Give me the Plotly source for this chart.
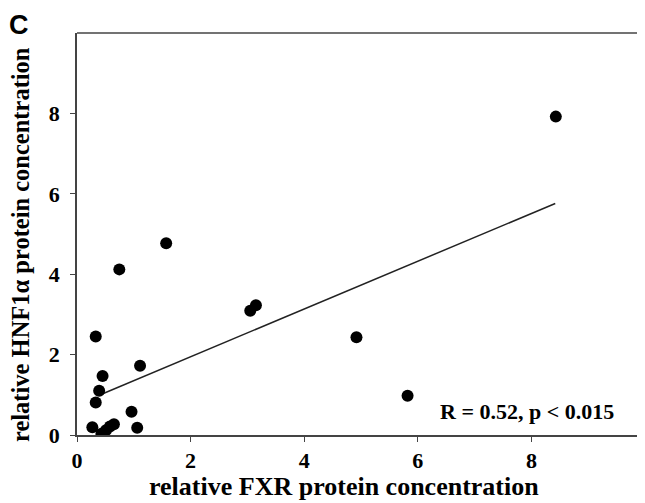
import plotly.graph_objects as go

# Data
fxr = [0.33, 1.11, 0.45, 0.39, 0.33, 0.96, 0.27, 1.06, 0.43, 0.51, 0.58, 0.65,
       0.745, 1.57, 3.05, 3.15, 4.92, 5.82, 8.43]
hnf1a = [2.45, 1.72, 1.47, 1.10, 0.81, 0.58, 0.19, 0.18, 0.03, 0.12, 0.21, 0.27,
         4.12, 4.77, 3.09, 3.23, 2.43, 0.975, 7.92]
fit_x = [0.39, 8.42]
fit_y = [0.99, 5.76]
x_ticks = [0, 2, 4, 6, 8]
y_ticks = [0, 2, 4, 6, 8]
annotation_text = "R = 0.52, p < 0.015"
x_title = "relative FXR protein concentration"
y_title = "relative HNF1α protein concentration"

serif = "Liberation Serif"
axis_col = "#444444"

# page has an 8px body margin; plot area on page: x 77..645, y 33..435
PW, PH = 568, 402

def px(xp):
    return (xp - 77) / PW

def py(yp):
    return (435 - yp) / PH

fig = go.Figure()
fig.add_trace(go.Scatter(x=fit_x, y=fit_y, mode="lines",
                         line=dict(color="#222222", width=1.5), showlegend=False))
fig.add_trace(go.Scatter(x=fxr, y=hnf1a, mode="markers",
                         marker=dict(color="black", size=12), showlegend=False))

fig.update_layout(
    width=637, height=495,
    margin=dict(l=69, r=0, t=25, b=68),
    plot_bgcolor="white", paper_bgcolor="white",
    xaxis=dict(range=[0, 10], tickvals=x_ticks, ticks="outside", ticklen=5,
               tickcolor=axis_col, showline=True, linecolor=axis_col, linewidth=1.5,
               showgrid=False, zeroline=False,
               tickfont=dict(family=serif, size=22, color="black", weight="bold")),
    yaxis=dict(range=[0, 10], tickvals=y_ticks, ticks="outside", ticklen=5,
               tickcolor=axis_col, showline=True, linecolor=axis_col, linewidth=1.5,
               showgrid=False, zeroline=False, ticklabelstandoff=6,
               tickfont=dict(family=serif, size=22, color="black", weight="bold")),
    shapes=[dict(type="line", xref="paper", yref="paper", x0=0, x1=1, y0=1, y1=1,
                 line=dict(color=axis_col, width=1.5))],
    annotations=[
        dict(text=annotation_text, x=px(616), y=py(411), xref="paper", yref="paper",
             xanchor="right", yanchor="middle", showarrow=False,
             font=dict(family=serif, size=22, color="black", weight="bold")),
        dict(text=x_title, x=px(344), y=py(486), xref="paper", yref="paper",
             xanchor="center", yanchor="middle", showarrow=False,
             font=dict(family=serif, size=26, color="black", weight="bold")),
        dict(text=y_title, x=px(20), y=py(245), xref="paper", yref="paper",
             xanchor="center", yanchor="middle", showarrow=False, textangle=-90,
             font=dict(family=serif, size=24.5, color="black", weight="bold")),
        dict(text="C", x=px(19), y=py(25), xref="paper", yref="paper",
             xanchor="center", yanchor="middle", showarrow=False,
             font=dict(family="Liberation Sans", size=27, color="black", weight="bold")),
    ],
)

fig.write_html("out.html")
